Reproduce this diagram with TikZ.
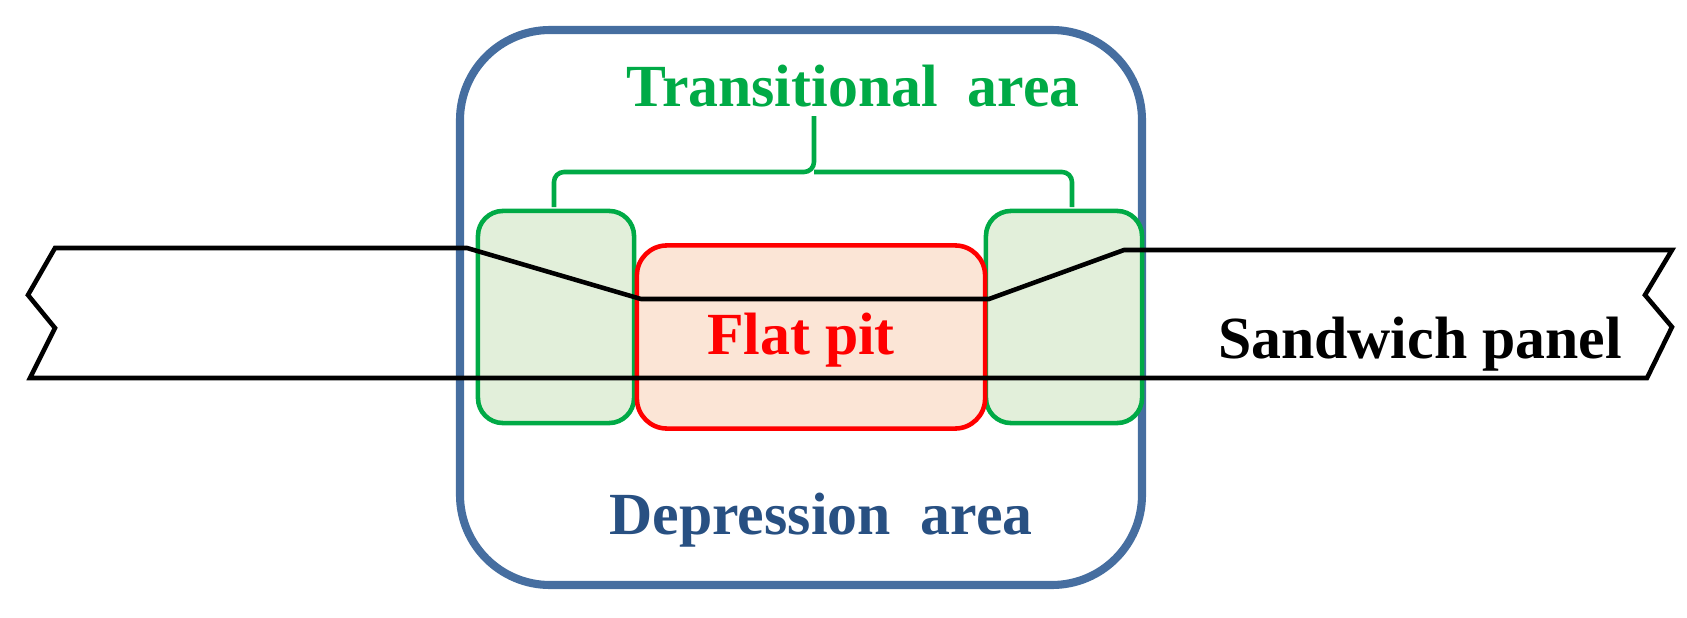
\documentclass[tikz,border=0pt]{standalone}
\usepackage{fontspec}
\setmainfont{Liberation Serif}
\begin{document}
\begin{tikzpicture}[x=0.01cm,y=-0.01cm,
  panel/.style={line width=1.3pt,black,line join=miter},
  lbl/.style={font=\bfseries\fontsize{17}{20}\selectfont}]
\definecolor{tg}{RGB}{0,170,70}
\definecolor{gf}{RGB}{226,239,218}
\definecolor{rf}{RGB}{251,229,214}
\definecolor{bb}{RGB}{70,110,160}
\definecolor{db}{RGB}{40,80,130}
\tikzset{trans/.style={draw=tg,fill=gf,line width=1.3pt,rounded corners=0.25cm,minimum width=1.56cm,minimum height=2.12cm}}
\useasboundingbox (0,0) rectangle (1687,618);
\draw[bb,line width=2.3pt,rounded corners=0.9cm] (460,30) rectangle (1142,585);
\node[trans] (lg) at (556,317) {};
\node[trans] (rg) at (1064,317) {};
\node[draw=red,fill=rf,line width=1.3pt,rounded corners=0.3cm,minimum width=3.48cm,minimum height=1.83cm] (fp) at (811,337) {};
\draw[panel] (55,248) -- (467,248) -- (641,299) -- (989,299) -- (1124,250) -- (1672,250)
  -- (1645,295) -- (1672,327) -- (1647,378) -- (30,378) -- (55,328) -- (28,295) -- cycle;
\draw[tg,line width=1.3pt,rounded corners=0.1cm] (554,207) -- (554,172) -- (814,172) -- (814,116);
\draw[tg,line width=1.3pt,rounded corners=0.1cm] (1072,207) -- (1072,172) -- (814,172);
\node[lbl,text=tg] (ta) at (853,86) {Transitional\ \ area};
\node[lbl,text=red] (fl) at (801,340) {Flat pit};
\node[lbl,text=db] (da) at (821,520) {Depression\ \ area};
\node[lbl,text=black] (sp) at (1420,344) {Sandwich panel};
\end{tikzpicture}
\end{document}
